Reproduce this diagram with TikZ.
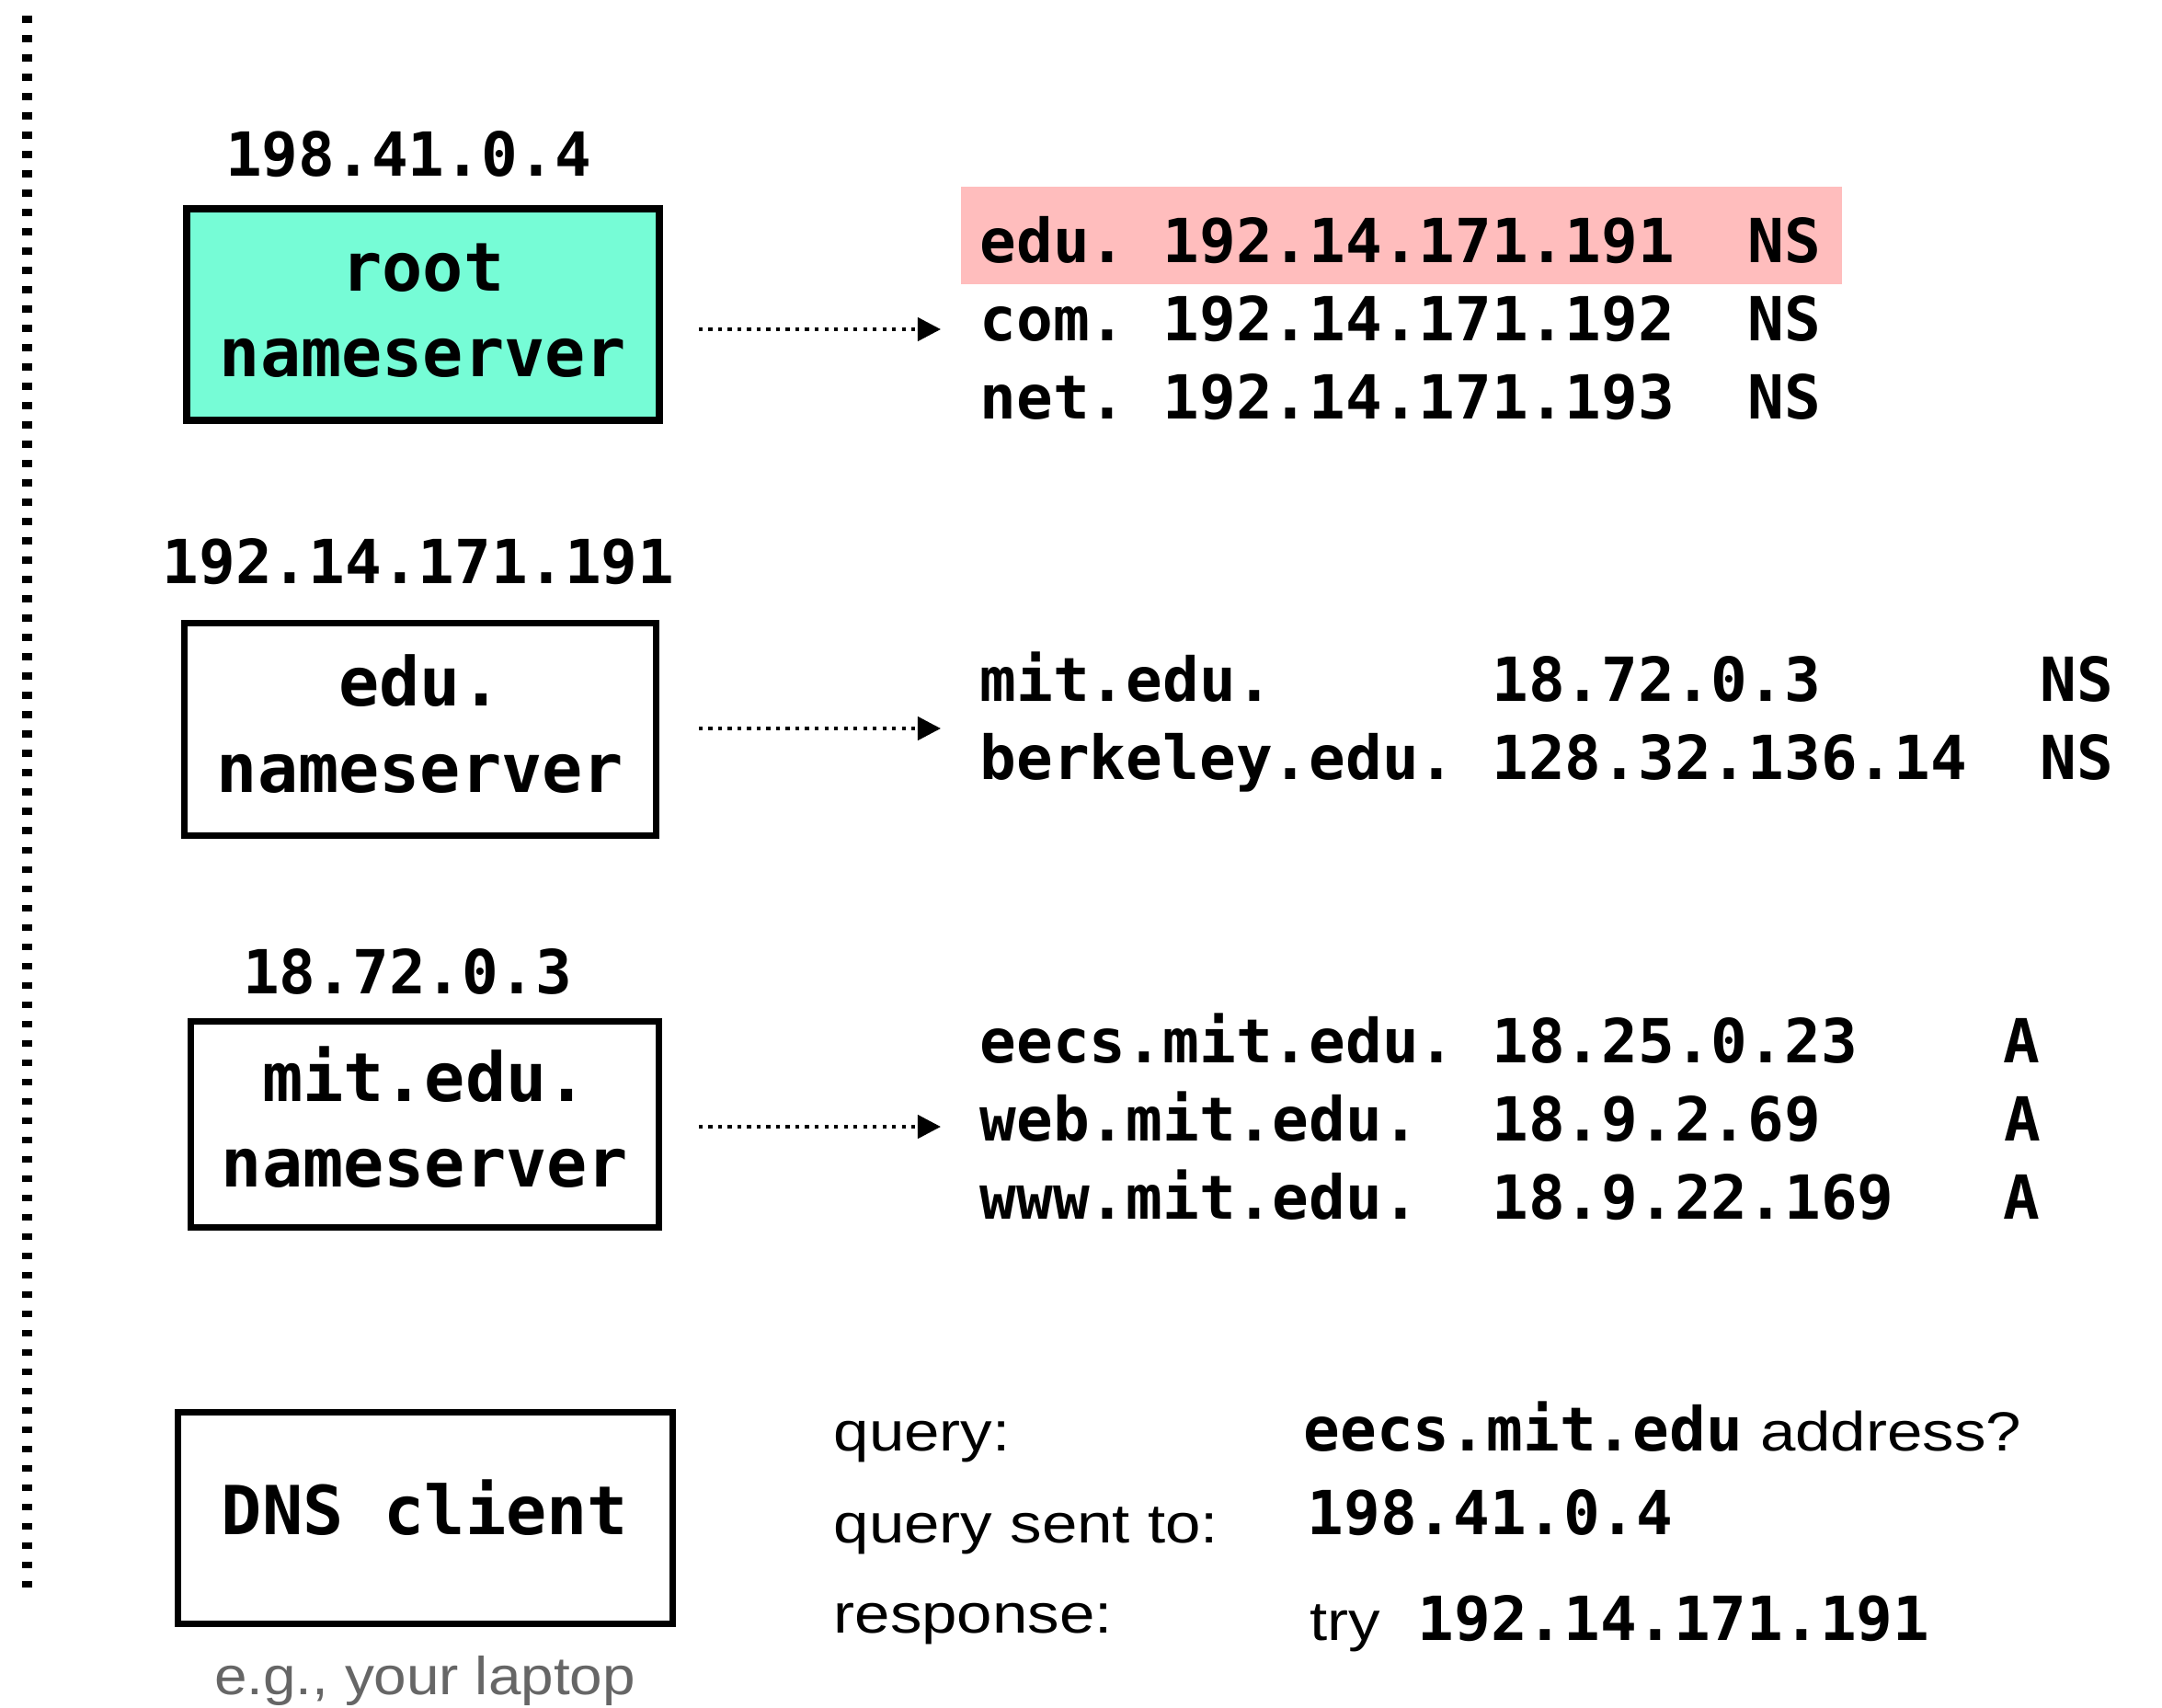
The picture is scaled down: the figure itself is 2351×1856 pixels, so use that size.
\documentclass[tikz,border=0pt]{standalone}
\usepackage{fontspec}
\usepackage{graphicx}
\usetikzlibrary{arrows.meta}
\newfontfamily\recfont[RawFeature=+zero]{DejaVu Sans Mono}
\setsansfont{Liberation Sans}
\definecolor{rootfill}{RGB}{118,252,214}
\definecolor{hilite}{RGB}{255,189,189}
\definecolor{notegray}{RGB}{102,102,102}
% light sans text, slightly widened
\newcommand\plainsans[1]{\scalebox{1.15}[1]{\normalfont\sffamily\fontsize{17.07pt}{20pt}\selectfont #1}}
\newcommand\notesans[1]{\scalebox{1.1}[1]{\normalfont\sffamily\fontsize{16.5pt}{20pt}\selectfont\color{notegray}#1}}
\begin{document}
\begin{tikzpicture}[x=0.01cm, y=-0.01cm,
  rec/.style={anchor=base west, inner sep=0, font=\recfont\bfseries\fontsize{18.78pt}{22pt}\selectfont},
  lbl/.style={anchor=base, inner sep=0, font=\recfont\bfseries\fontsize{18.78pt}{22pt}\selectfont},
  boxtxt/.style={anchor=base, inner sep=0, font=\recfont\bfseries\fontsize{20.9pt}{25pt}\selectfont},
  srvbox/.style={draw, line width=0.075cm, inner sep=0},
  qlabel/.style={anchor=base west, inner sep=0},
  dotarrow/.style={line width=0.043cm, dash pattern=on 0.043cm off 0.062cm,
    -{Triangle[length=0.25cm,width=0.25cm]}},
  sepline/.style={line width=0.10cm, dash pattern=on 0.075cm off 0.135cm}]

\useasboundingbox (0,0) rectangle (2351,1856);
\fill[white] (0,0) rectangle (2351,1856);

% separator on the left
\draw[sepline] (29.5,17) -- (29.5,1731);

% root nameserver
\node[srvbox, fill=rootfill, minimum width=5.14cm, minimum height=2.30cm] (root) at (460,342) {};
\node[boxtxt] (rootl1) at (460,316) {root};
\node[boxtxt] (rootl2) at (460,409) {nameserver};
\node[lbl] (rootip) at (444,191) {198.41.0.4};

% edu. nameserver
\node[srvbox, minimum width=5.13cm, minimum height=2.31cm] (edu) at (457,793) {};
\node[boxtxt] (edul1) at (457,767) {edu.};
\node[boxtxt] (edul2) at (457,861) {nameserver};
\node[lbl] (eduip) at (455,634) {192.14.171.191};

% mit.edu. nameserver
\node[srvbox, minimum width=5.09cm, minimum height=2.24cm] (mit) at (462,1222.5) {};
\node[boxtxt] (mitl1) at (462,1197) {mit.edu.};
\node[boxtxt] (mitl2) at (462,1290) {nameserver};
\node[lbl] (mitip) at (443,1080) {18.72.0.3};

% DNS client
\node[srvbox, minimum width=5.38cm, minimum height=2.30cm] (client) at (462.5,1650.5) {};
\node[boxtxt] (clientl) at (462,1668) {DNS client};
\node[anchor=base, inner sep=0] (laptop) at (462,1842) {\notesans{e.g., your laptop}};

% records held by the root nameserver
\node[fill=hilite, inner sep=0, minimum width=9.58cm, minimum height=1.06cm] (hl) at (1524,256) {};
\node[rec] (ra) at (1065,285) {edu.~192.14.171.191~~NS};
\node[rec] (rb) at (1065,370) {com.~192.14.171.192~~NS};
\node[rec] (rc) at (1065,455) {net.~192.14.171.193~~NS};

% records held by the edu. nameserver
\node[rec] (ea) at (1065,762) {mit.edu.~~~~~~18.72.0.3~~~~~~NS};
\node[rec] (eb) at (1065,847) {berkeley.edu.~128.32.136.14~~NS};

% records held by the mit.edu. nameserver
\node[rec] (ma) at (1065,1155) {eecs.mit.edu.~18.25.0.23~~~~A};
\node[rec] (mb) at (1065,1240) {web.mit.edu.~~18.9.2.69~~~~~A};
\node[rec] (mc) at (1065,1325) {www.mit.edu.~~18.9.22.169~~~A};

% arrows from each server to its records
\coordinate (t1) at (1023,358);
\coordinate (t2) at (1023,792);
\coordinate (t3) at (1023,1225);
\draw[dotarrow] ([xshift=0.39cm]root.east |- t1) -- (t1);
\draw[dotarrow] ([xshift=0.425cm]edu.east |- t2) -- (t2);
\draw[dotarrow] ([xshift=0.395cm]mit.east |- t3) -- (t3);

% query summary
\node[qlabel] (qk1) at (906,1577) {\plainsans{query:}};
\node[qlabel] (qk2) at (906,1677) {\plainsans{query sent to:}};
\node[qlabel] (qk3) at (906,1775) {\plainsans{response:}};
\node[rec] (qv1) at (1417,1577) {eecs.mit.edu\plainsans{\ address?}};
\node[rec] (qv2) at (1421,1668) {198.41.0.4};
\node[qlabel] (qv3a) at (1424,1783) {\plainsans{try}};
\node[rec] (qv3b) at (1541,1783) {192.14.171.191};
\end{tikzpicture}
\end{document}
